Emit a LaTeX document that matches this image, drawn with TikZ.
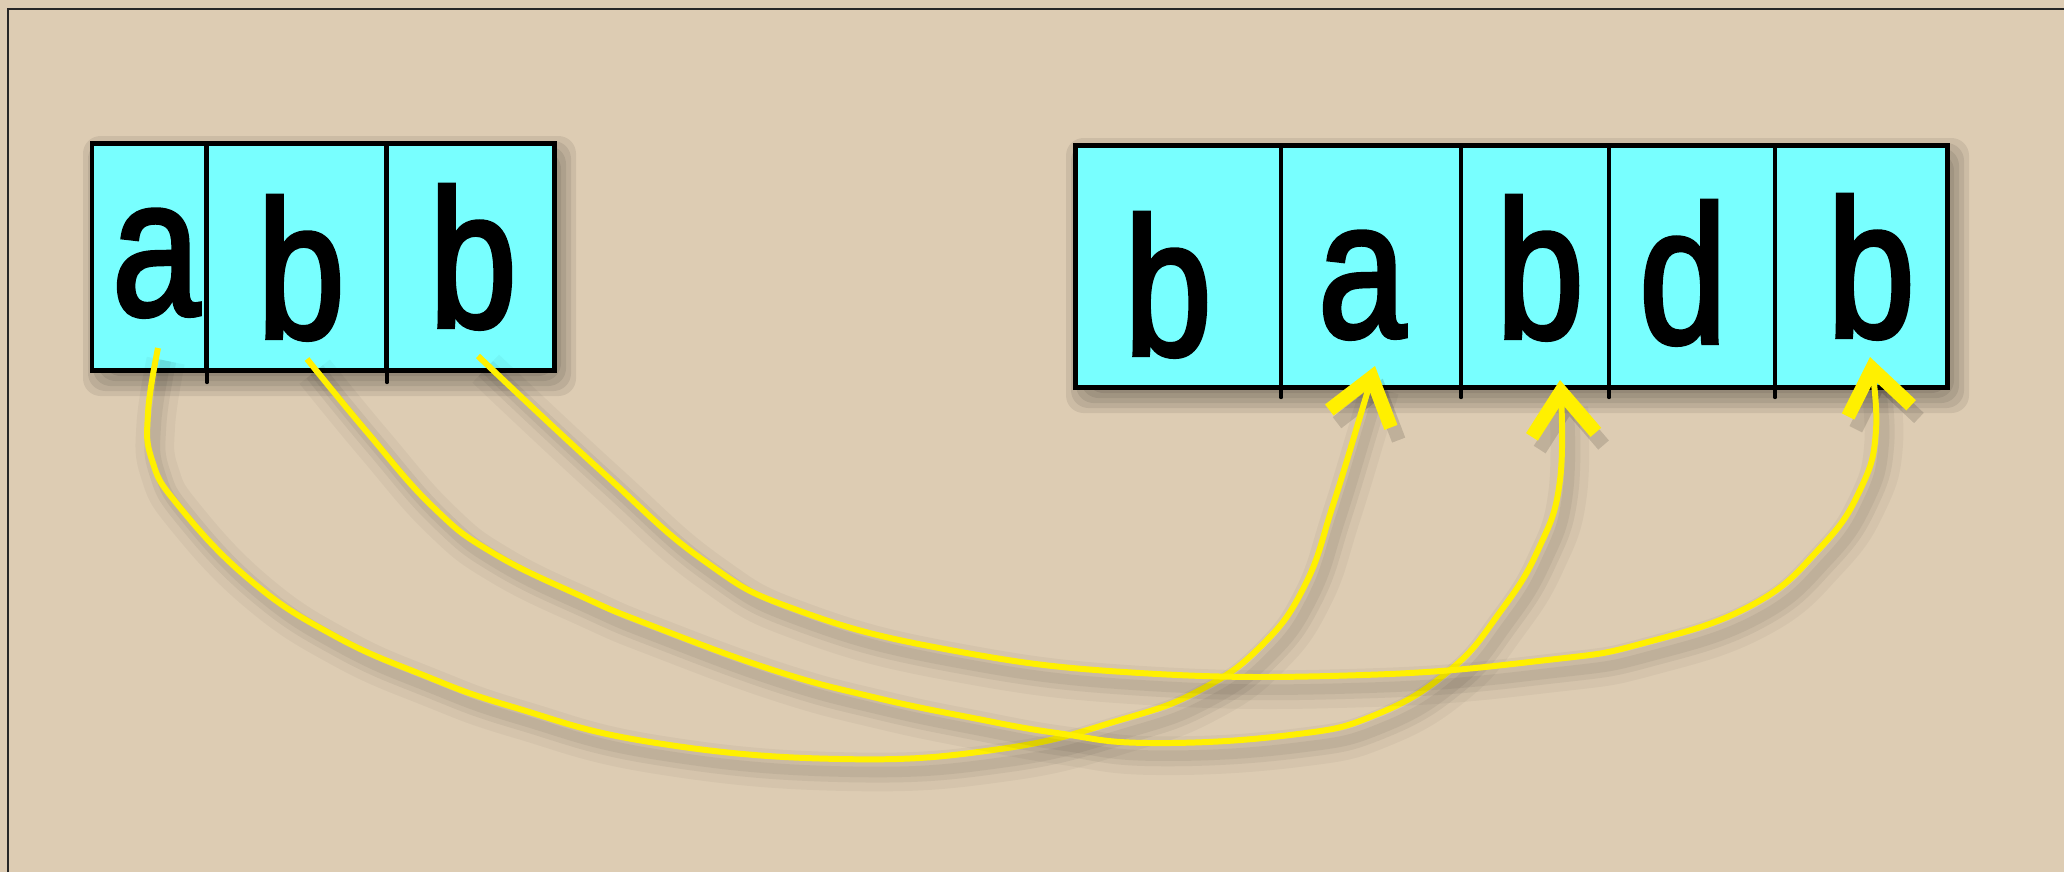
\documentclass[tikz,border=0pt]{standalone}
\usepackage{fontspec}
\newfontfamily\lettfont[FakeStretch=0.8,FakeBold=2.2]{Liberation Sans}
\usetikzlibrary{arrows.meta,calc}
\definecolor{paper}{RGB}{221,204,179}
\definecolor{cellcyan}{RGB}{120,255,255}
\definecolor{ylw}{RGB}{255,240,0}
\begin{document}
\begin{tikzpicture}[x=0.01cm,y=-0.01cm,
  cell/.style={draw=black, fill=cellcyan, line width=1.4pt, inner sep=0pt, outer sep=0pt},
  letter/.style={font={\lettfont\fontsize{55.8}{60}\selectfont}, inner sep=0pt, anchor=base},
  tickmark/.style={draw=black, line width=0.9pt, line cap=round},
  boxshadow/.style={fill=black, fill opacity=0.075, rounded corners=5pt},
  conn/.style={draw=ylw, line width=1.7pt,
    -{Straight Barb[length=0.43cm,width=0.64cm,line width=0.14cm]},
    preaction={draw=black, draw opacity=0.035, line width=11pt, transform canvas={xshift=2.2pt,yshift=-3.6pt}},
    preaction={draw=black, draw opacity=0.05, line width=6pt, transform canvas={xshift=2.2pt,yshift=-3.6pt}},
    preaction={draw=black, draw opacity=0.05, line width=3pt, transform canvas={xshift=2.2pt,yshift=-3.6pt}}}
]
% background and frame
\useasboundingbox (0,0) rectangle (2064,872);
\fill[paper] (0,0) rectangle (2064,872);
\draw[black!85, line width=0.6pt] (8,872) -- (8,9) -- (2064,9);

% box shadows
\foreach \d in {0,5,10,15,20,25} {
  \fill[boxshadow] ({90+18-\d},{141+20-\d}) rectangle ({557-6+\d},{373-2+\d});
  \fill[boxshadow] ({1073+18-\d},{143+20-\d}) rectangle ({1950-6+\d},{390-2+\d});
}

% left array cells
\node[cell, minimum width=1.15cm, minimum height=2.27cm] (L1) at (149.5,257) {};
\node[cell, minimum width=1.80cm, minimum height=2.27cm] (L2) at (297,257) {};
\node[cell, minimum width=1.67cm, minimum height=2.27cm] (L3) at (470.5,257) {};
% right array cells
\node[cell, minimum width=2.055cm, minimum height=2.42cm] (R1) at (1178.25,266.5) {};
\node[cell, minimum width=1.80cm, minimum height=2.42cm] (R2) at (1371,266.5) {};
\node[cell, minimum width=1.48cm, minimum height=2.42cm] (R3) at (1535,266.5) {};
\node[cell, minimum width=1.66cm, minimum height=2.42cm] (R4) at (1692,266.5) {};
\node[cell, minimum width=1.725cm, minimum height=2.42cm] (R5) at (1861.25,266.5) {};

% tick marks under dividers
\draw[tickmark] (L1.south east) -- ++(0,12);
\draw[tickmark] (L2.south east) -- ++(0,12);
\draw[tickmark] (R1.south east) -- ++(0,10);
\draw[tickmark] (R2.south east) -- ++(0,10);
\draw[tickmark] (R3.south east) -- ++(0,10);
\draw[tickmark] (R4.south east) -- ++(0,10);

% letters
\node[letter] (la)  at (156,315) {a};
\node[letter] (lb1) at (301,338) {b};
\node[letter] (lb2) at (473,327) {b};
\node[letter] (rb1) at (1168,355) {b};
\node[letter] (ra)  at (1362,337) {a};
\node[letter] (rb2) at (1540,338) {b};
\node[letter] (rd)  at (1683,343) {d};
\node[letter] (rb3) at (1871,337) {b};

% connector end points
\coordinate (s1) at ($(la.base)+(2,33)$);
\coordinate (s2) at ($(lb1.base)+(6,21)$);
\coordinate (s3) at ($(lb2.base)+(5,29)$);
\coordinate (e1) at ($(ra.base)+(13,29)$);
\coordinate (e2) at ($(rb2.base)+(20,42)$);
\coordinate (e3) at ($(rb3.base)+(-1,20)$);

% connectors
\draw[conn] plot[smooth, tension=0.75] coordinates {(s1) (148,413) (152,460) (178,505) (250,580) (333,635) (423,675) (513,707) (650,742) (840,759) (1000,749) (1120,720) (1200,690) (1262,645) (1305,585) (1333,505) (1362,410) (e1)};
\draw[conn] plot[smooth, tension=0.75] coordinates {(s2) (367,432) (433,507) (493,553) (583,597) (650,625) (773,670) (873,697) (973,718) (1057,733) (1150,743) (1290,735) (1375,715) (1450,670) (1500,612) (1538,550) (1560,480) (e2)};
\draw[conn] plot[smooth, tension=0.75] coordinates {(s3) (600,470) (703,560) (797,610) (950,650) (1140,673) (1363,675) (1547,660) (1644,643) (1752,605) (1820,548) (1860,490) (1876,430) (e3)};
\end{tikzpicture}
\end{document}
